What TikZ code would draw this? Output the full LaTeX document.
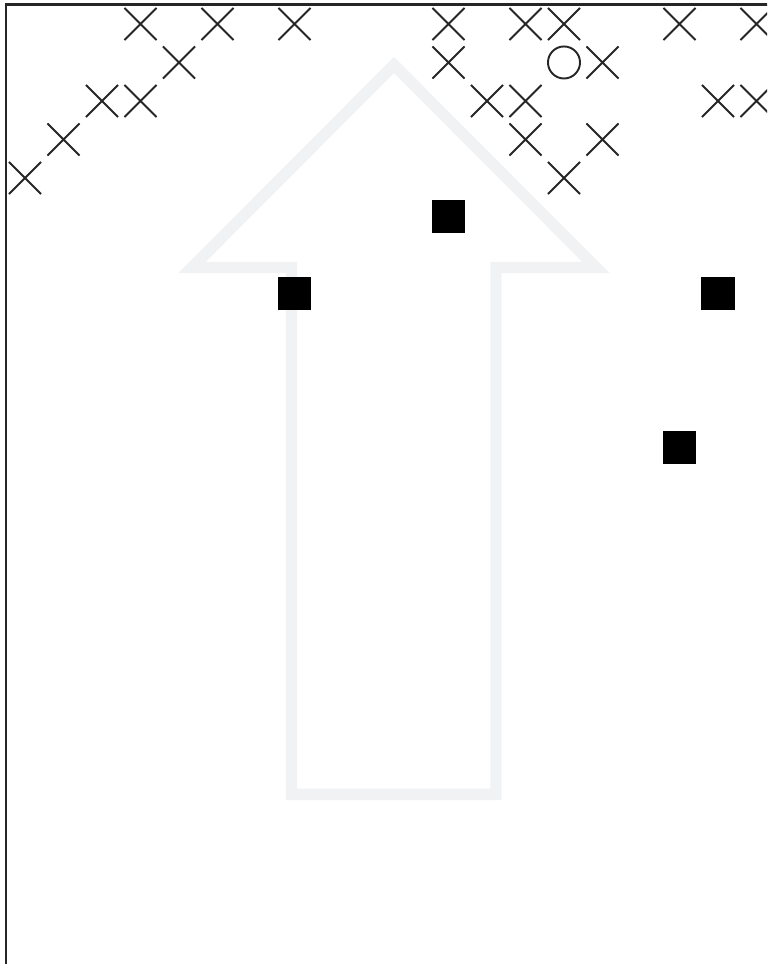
\documentclass[tikz,border=0pt]{standalone}
\usepackage{tikz}
\usepackage{xcolor}
\definecolor{hintgray}{RGB}{241,242,244}
\tikzstyle{cross} = [line width=1.1pt, black!85]
\tikzstyle{block} = [fill=black]
\tikzstyle{hint} = [hintgray, line width=6.5pt, line join=miter]
\newcommand{\hs}{0.416}

\begin{document}
\begin{tikzpicture}[x=0.77cm, y=-0.77cm]
    % Visible window
    \clip (-0.649,-0.623) rectangle (19.273,24.416);

    % Direction hint
    \draw[hint] (9.584,1.065) -- (14.83,6.325) -- (12.234,6.325) -- (12.234,20.01)
        -- (6.922,20.01) -- (6.922,6.325) -- (4.338,6.325) -- cycle;

    % Frame
    \draw[line width=1.4pt, black!85] (19.6,-0.5) -- (-0.5,-0.5) -- (-0.5,24.6);

    % Crosses
    \foreach \x/\y in {3/0, 5/0, 7/0, 11/0, 13/0, 14/0, 17/0, 19/0,
                       4/1, 11/1, 15/1,
                       2/2, 3/2, 12/2, 13/2, 18/2, 19/2,
                       1/3, 13/3, 15/3,
                       0/4, 14/4} {
        \draw[cross] (\x-\hs,\y-\hs) -- (\x+\hs,\y+\hs)
                     (\x-\hs,\y+\hs) -- (\x+\hs,\y-\hs);
    }

    % Start
    \draw[cross] (14,1) circle (\hs);

    % Blocks
    \foreach \x/\y in {11/5, 7/7, 18/7, 17/11} {
        \fill[block] (\x-0.43,\y-0.43) rectangle (\x+0.43,\y+0.43);
    }
\end{tikzpicture}
\end{document}
